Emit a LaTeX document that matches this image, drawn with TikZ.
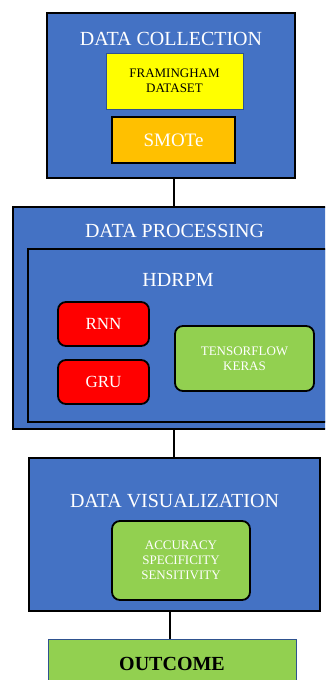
\documentclass[tikz,border=0pt]{standalone}
\usepackage{fontspec}
\setmainfont{Liberation Serif}
\usetikzlibrary{positioning}
\definecolor{boxblue}{HTML}{4472C4}
\definecolor{edgeblue}{HTML}{2F528F}
\definecolor{dsyellow}{HTML}{FFFF00}
\definecolor{smoteorange}{HTML}{FFC000}
\definecolor{netred}{HTML}{FF0000}
\definecolor{toolgreen}{HTML}{92D050}

\begin{document}
\begin{tikzpicture}[x=1pt,y=-1pt,
    stage/.style={draw=black, line width=2pt, fill=boxblue, inner sep=0pt},
    title/.style={text=white, font=\fontsize{20}{22}\selectfont, inner sep=0pt},
    tool/.style={draw=black, line width=1.8pt, rounded corners=8pt,
        inner sep=0pt, text=white, align=center},
    small/.style={font=\fontsize{13}{15}\selectfont},
    link/.style={draw=black, line width=2pt}]
    \useasboundingbox (0,0) rectangle (325,680);
    \clip (0,0) rectangle (325,680);

    % data collection
    \node[stage, minimum width=248pt, minimum height=165pt] (collect) at (171,95.5) {};
    \node[title] (collecttitle) at (171,39) {DATA COLLECTION};
    \node[draw=edgeblue, line width=0.8pt, fill=dsyellow, small, align=center,
        minimum width=137pt, minimum height=56pt] (dataset) at (174.5,81)
        {FRAMINGHAM\\DATASET};
    \node[draw=black, line width=2pt, fill=smoteorange, text=white,
        font=\fontsize{19}{21}\selectfont,
        minimum width=123pt, minimum height=46pt] (smote) at (173.5,140) {SMOTe};

    % data processing
    \node[stage, minimum width=340pt, minimum height=222pt] (proc) at (183,318) {};
    \node[title] (proctitle) at (174.5,231) {DATA PROCESSING};
    \node[stage, line width=1.8pt, minimum width=320pt, minimum height=173pt] (hdrpm) at (188,335.5) {};
    \node[title] (hdrpmtitle) at (178,279.5) {HDRPM};
    \node[tool, fill=netred, font=\fontsize{17}{19}\selectfont,
        minimum width=91pt, minimum height=44pt] (rnn) at (103.5,324) {RNN};
    \node[tool, fill=netred, font=\fontsize{17}{19}\selectfont,
        minimum width=91pt, minimum height=44pt] (gru) at (103.5,382) {GRU};
    \node[tool, fill=toolgreen, small, minimum width=139pt, minimum height=65pt]
        (tfk) at (244.5,358.5) {TENSORFLOW\\KERAS};

    % data visualization
    \node[stage, minimum width=291pt, minimum height=153pt] (vis) at (174.5,534.5) {};
    \node[title] (vistitle) at (174.5,501) {DATA VISUALIZATION};
    \node[tool, fill=toolgreen, small, minimum width=138pt, minimum height=79pt]
        (metrics) at (181,560.5) {ACCURACY\\SPECIFICITY\\SENSITIVITY};

    % outcome
    \node[draw=edgeblue, line width=1pt, fill=toolgreen,
        font=\bfseries\fontsize{20}{22}\selectfont,
        minimum width=248pt, minimum height=49pt] (outcome) at (172,663.5) {OUTCOME};

    \draw[link] (collect.south -| tfk.west) -- (proc.north -| tfk.west);
    \draw[link] (proc.south -| tfk.west) -- (vis.north -| tfk.west);
    \draw[link] ([xshift=-2pt]outcome.north) -- ([xshift=-2pt]outcome.north |- vis.south);
\end{tikzpicture}
\end{document}
